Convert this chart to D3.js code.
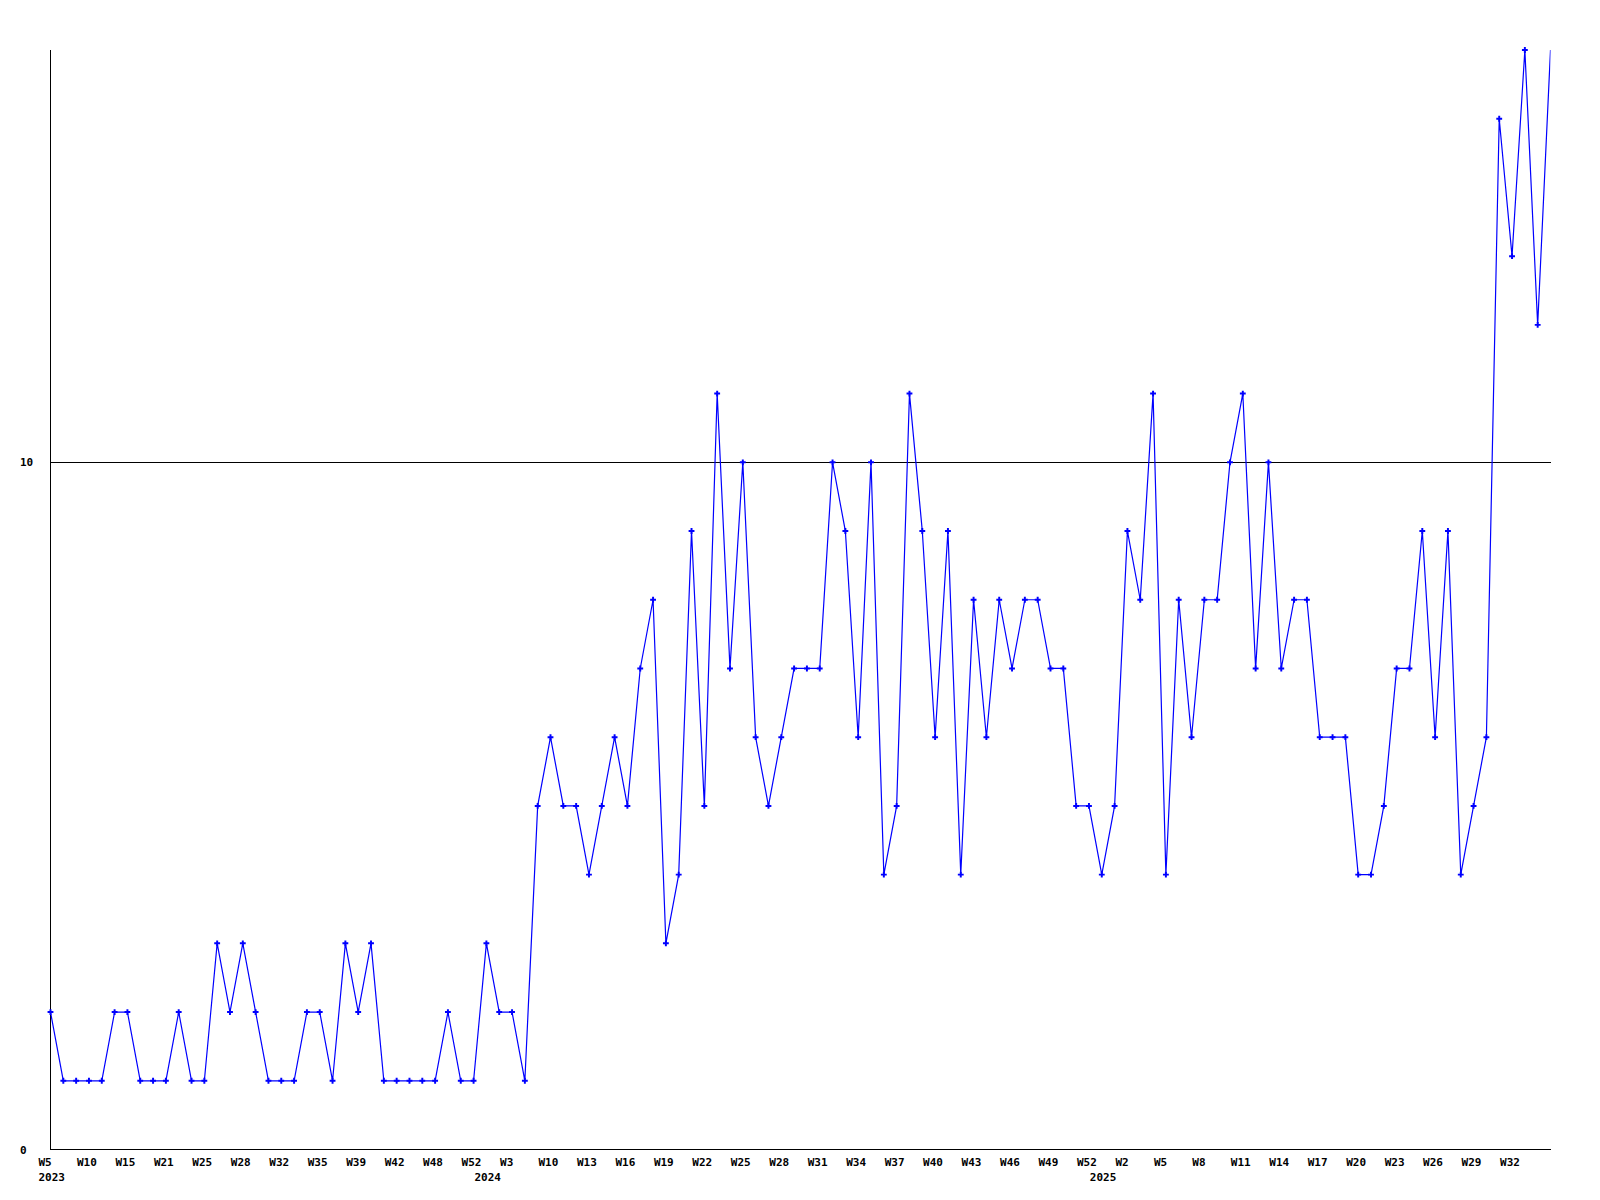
<!DOCTYPE html>
<html>
<head>
<meta charset="utf-8">
<script src="https://cdn.jsdelivr.net/npm/d3@7"></script>
<style>
  html, body { margin: 0; padding: 0; background: #ffffff; }
  svg { display: block; }
  text { font-family: "DejaVu Sans Mono", "Liberation Mono", monospace; font-weight: bold; font-size: 11px; fill: #000; }
</style>
</head>
<body>
<script>
// ---- data ----
const values = [
  2,1,1,1,1,2,2,1,1,1,2,1,1,3,2,3,2,1,1,1,2,2,1,3,2,3,1,1,1,1,1,2,1,1,3,2,2,1,
  5,6,5,5,4,5,6,5,7,8,3,4,9,5,11,7,10,6,5,6,7,7,7,10,9,6,10,4,5,11,9,6,9,4,8,6,
  8,7,8,8,7,7,5,5,4,5,9,8,11,4,8,6,8,8,10,11,7,10,7,8,8,6,6,6,4,4,5,7,7,9,6,9,
  4,5,6,15,13,16,12,16
];
const tickLabels = [
  "W5","W10","W15","W21","W25","W28","W32","W35","W39","W42","W48","W52",
  "W3","W10","W13","W16","W19","W22","W25","W28","W31","W34","W37","W40","W43","W46","W49","W52",
  "W2","W5","W8","W11","W14","W17","W20","W23","W26","W29","W32"
];
const tickEvery = 3;
const yearLabels = ["2023","2024","2025"];
const yearIndex = [0, 34, 82];
const yTicks = [0, 10];
const yMax = 16;

// ---- layout ----
const W = 1600, H = 1200;
const mLeft = 50.5, mRight = 1550.5, mTop = 50, mBottom = 1149.5;

const svg = d3.select("body").append("svg").attr("width", W).attr("height", H);

const x = d3.scaleLinear().domain([0, values.length - 1]).range([mLeft, mRight]);
const y = d3.scaleLinear().domain([0, yMax]).range([mBottom, mTop]);

// gridline at 10
svg.append("g").selectAll("line").data(yTicks.filter(d => d > 0)).join("line")
  .attr("x1", mLeft).attr("x2", mRight)
  .attr("y1", d => Math.round(y(d)) + 0.5).attr("y2", d => Math.round(y(d)) + 0.5)
  .attr("stroke", "#000").attr("stroke-width", 1).attr("shape-rendering", "crispEdges");

// axes lines
svg.append("line").attr("x1", mLeft).attr("x2", mLeft).attr("y1", mTop).attr("y2", mBottom)
  .attr("stroke", "#000").attr("shape-rendering", "crispEdges");
svg.append("line").attr("x1", mLeft).attr("x2", mRight).attr("y1", mBottom).attr("y2", mBottom)
  .attr("stroke", "#000").attr("shape-rendering", "crispEdges");

// y labels
svg.append("g").selectAll("text").data(yTicks).join("text")
  .attr("x", 20).attr("y", d => y(d) + 1)
  .attr("dominant-baseline", "middle")
  .text(d => d);

// x labels
svg.append("g").selectAll("text").data(tickLabels).join("text")
  .attr("x", (d, i) => x(i * tickEvery) - 12)
  .attr("y", 1162.5)
  .attr("dominant-baseline", "middle")
  .text(d => d);

svg.append("g").selectAll("text").data(yearLabels).join("text")
  .attr("x", (d, i) => x(yearIndex[i]) - 12)
  .attr("y", 1177.5)
  .attr("dominant-baseline", "middle")
  .text(d => d);

// clip
svg.append("clipPath").attr("id", "plot").append("rect")
  .attr("x", mLeft).attr("y", mTop).attr("width", mRight - mLeft).attr("height", mBottom - mTop + 1);

const line = d3.line().x((d, i) => x(i)).y(d => y(d));
svg.append("path").datum(values)
  .attr("d", line)
  .attr("fill", "none").attr("stroke", "#0000ff").attr("stroke-width", 1.2)
  .attr("clip-path", "url(#plot)");

// markers (last point falls on the plot edge without a marker)
const sym = d3.symbol().type(d3.symbolCross).size(19);
svg.append("g").selectAll("path").data(values.slice(0, values.length - 1)).join("path")
  .attr("transform", (d, i) => `translate(${x(i)},${y(d)})`)
  .attr("d", sym)
  .attr("fill", "#0000ff");
</script>
</body>
</html>
